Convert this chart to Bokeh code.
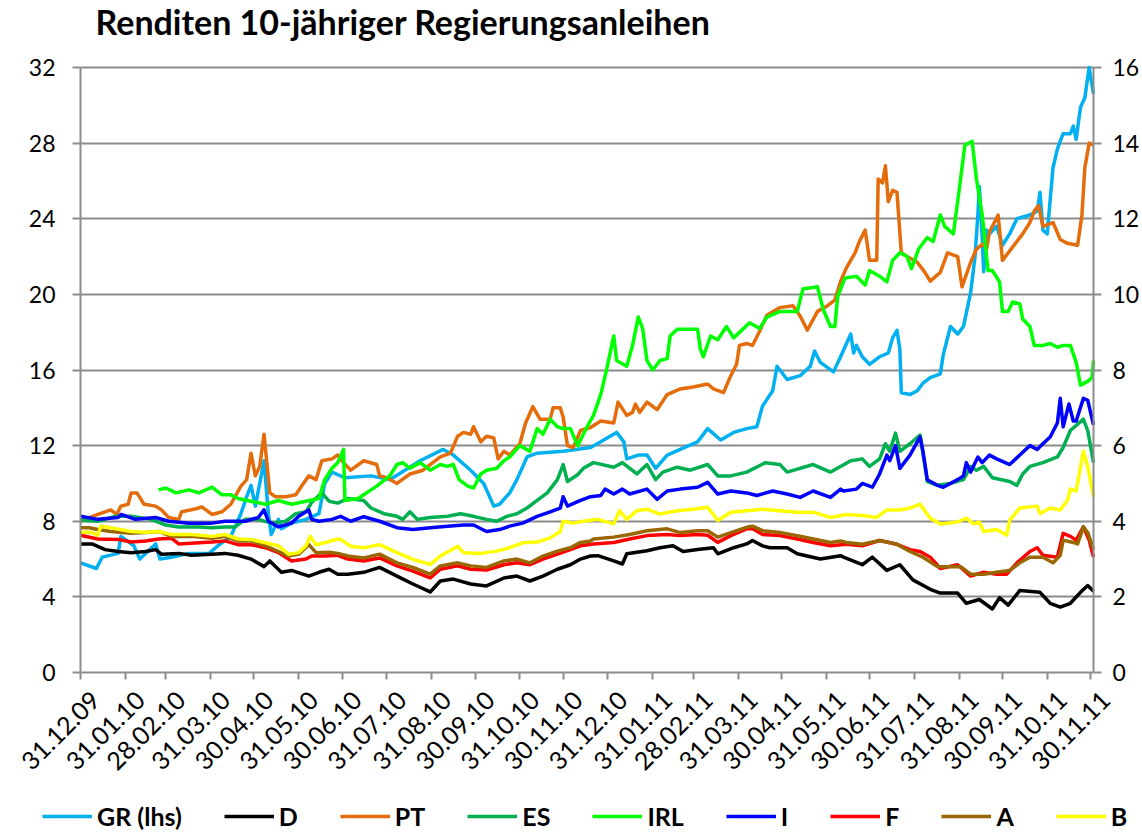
import math
from datetime import datetime
from bokeh.plotting import figure
from bokeh.models import Range1d, LinearAxis, FixedTicker, Legend, LegendItem, Label
from bokeh.core.properties import value
from bokeh.embed import file_html
from bokeh.resources import INLINE

# ---------------- data (days since 31.12.2009, yields in %) ----------------
tick_labels = ["31.12.09", "31.01.10", "28.02.10", "31.03.10", "30.04.10", "31.05.10",
               "30.06.10", "31.07.10", "31.08.10", "30.09.10", "31.10.10", "30.11.10",
               "31.12.10", "31.01.11", "28.02.11", "31.03.11", "30.04.11", "31.05.11",
               "30.06.11", "31.07.11", "31.08.11", "30.09.11", "31.10.11", "30.11.11"]

gr_days = [0, 11, 15, 26, 28, 37, 41, 52, 55, 63, 75, 89, 95, 104, 111, 115, 118, 121, 127, 130,
           132, 137, 139, 146, 156, 165, 169, 174, 183, 201, 214, 235, 251, 258, 270, 279, 286,
           290, 297, 302, 309, 316, 334, 353, 360, 371, 376, 378, 386, 392, 398, 406, 415, 427,
           434, 443, 452, 461, 468, 472, 479, 482, 489, 498, 505, 508, 512, 521, 526, 533, 535,
           537, 541, 546, 553, 559, 562, 565, 567, 568, 574, 579, 583, 588, 595, 597, 602, 607,
           611, 616, 619, 621, 622, 624, 625, 627, 629, 634, 638, 643, 648, 657, 662, 664, 666,
           669, 671, 673, 676, 680, 685, 687, 689, 692, 695, 698, 701]
gr_vals = [5.8, 5.5, 6.1, 6.3, 7.2, 6.7, 6.0, 6.8, 6.0, 6.1, 6.3, 6.3, 6.7, 7.2, 8.4, 9.3, 9.9, 8.8,
           11.2, 8.4, 7.3, 8.1, 7.6, 7.9, 8.1, 8.4, 10.0, 10.6, 10.3, 10.4, 10.2, 11.2, 11.8, 11.5,
           10.7, 10.0, 8.8, 8.9, 9.5, 10.2, 11.4, 11.6, 11.7, 11.9, 12.2, 12.7, 12.2, 11.3, 11.5,
           11.5, 10.8, 11.5, 11.8, 12.2, 12.9, 12.3, 12.7, 12.9, 13.0, 14.1, 14.9, 16.2, 15.5, 15.7,
           16.2, 17.0, 16.4, 15.9, 16.7, 17.9, 16.9, 17.3, 16.7, 16.3, 16.7, 16.9, 17.7, 18.1, 17.1,
           14.8, 14.7, 14.9, 15.3, 15.6, 15.8, 16.8, 18.3, 17.9, 18.3, 20.1, 22.0, 24.2, 25.7, 23.0,
           21.2, 23.4, 23.2, 23.6, 22.6, 23.2, 24.0, 24.2, 24.4, 25.4, 23.4, 23.2, 25.0, 26.7, 27.7,
           28.5, 28.5, 28.9, 28.2, 29.9, 30.4, 32.0, 30.6]

d_days = [0, 8, 17, 26, 35, 45, 52, 56, 68, 77, 91, 100, 109, 118, 127, 131, 139, 146, 158, 165,
          172, 178, 185, 196, 207, 219, 230, 242, 249, 258, 270, 281, 293, 302, 311, 320, 330, 339,
          346, 353, 358, 369, 375, 378, 392, 401, 410, 417, 427, 438, 441, 452, 461, 465, 472, 477,
          489, 496, 512, 526, 528, 541, 548, 558, 567, 576, 588, 595, 607, 613, 622, 631, 636, 642,
          650, 664, 671, 678, 685, 692, 697, 701]
d_vals = [3.40, 3.40, 3.25, 3.20, 3.17, 3.20, 3.25, 3.13, 3.15, 3.10, 3.13, 3.15, 3.10, 3.00, 2.80,
          2.95, 2.65, 2.70, 2.55, 2.65, 2.73, 2.60, 2.60, 2.65, 2.78, 2.55, 2.34, 2.13, 2.42, 2.47,
          2.34, 2.29, 2.50, 2.55, 2.42, 2.55, 2.73, 2.85, 3.00, 3.08, 3.09, 2.95, 2.87, 3.14, 3.22,
          3.30, 3.35, 3.20, 3.25, 3.30, 3.14, 3.30, 3.40, 3.49, 3.35, 3.30, 3.30, 3.14, 3.00, 3.09,
          3.05, 2.85, 3.05, 2.70, 2.85, 2.45, 2.20, 2.10, 2.10, 1.83, 1.93, 1.68, 1.98, 1.78, 2.17,
          2.12, 1.83, 1.73, 1.83, 2.12, 2.30, 2.15]

pt_days = [0, 12, 21, 25, 28, 33, 35, 39, 44, 52, 56, 61, 68, 70, 80, 84, 91, 98, 104, 111, 115,
           118, 121, 124, 127, 131, 135, 142, 149, 153, 158, 163, 167, 174, 178, 182, 187, 196, 205,
           207, 212, 219, 228, 237, 249, 256, 261, 265, 270, 272, 277, 281, 286, 289, 293, 297, 304,
           308, 313, 318, 325, 327, 332, 334, 337, 341, 346, 353, 360, 369, 372, 378, 382, 384, 387,
           392, 399, 406, 415, 424, 434, 438, 445, 450, 454, 456, 461, 465, 469, 475, 484, 493, 498,
           503, 510, 517, 522, 526, 530, 536, 539, 543, 546, 551, 552, 555, 557, 559, 562, 565, 568,
           572, 579, 584, 588, 595, 600, 607, 610, 616, 620, 625, 627, 629, 635, 638, 645, 652, 657,
           660, 663, 666, 673, 678, 683, 690, 693, 695, 698, 701]
pt_vals = [4.0, 4.18, 4.3, 4.18, 4.4, 4.45, 4.75, 4.75, 4.45, 4.4, 4.3, 4.1, 4.05, 4.25, 4.33, 4.38,
           4.18, 4.25, 4.45, 4.93, 5.1, 5.8, 5.2, 5.45, 6.3, 4.75, 4.65, 4.65, 4.7, 4.93, 5.2, 5.1,
           5.6, 5.65, 5.75, 5.55, 5.35, 5.6, 5.5, 5.2, 5.15, 5.0, 5.25, 5.35, 5.7, 5.8, 6.25, 6.35,
           6.3, 6.5, 6.1, 6.25, 6.2, 5.65, 5.85, 5.75, 6.05, 6.6, 7.03, 6.7, 6.7, 7.0, 7.0, 6.75,
           6.0, 5.95, 6.4, 6.48, 6.65, 6.6, 7.15, 6.8, 6.88, 7.1, 6.88, 7.15, 6.95, 7.35, 7.5, 7.55,
           7.63, 7.5, 7.4, 7.85, 8.15, 8.65, 8.7, 8.65, 8.95, 9.45, 9.65, 9.7, 9.43, 9.05, 9.55, 9.7,
           9.85, 10.35, 10.7, 11.1, 11.4, 11.7, 10.9, 10.9, 13.05, 12.95, 13.4, 12.45, 12.75, 12.7,
           11.1, 11.0, 10.85, 10.6, 10.35, 10.58, 11.1, 11.0, 10.2, 10.85, 11.2, 11.35, 11.2, 11.65,
           12.1, 10.9, 11.25, 11.6, 11.9, 12.2, 12.35, 11.8, 11.9, 11.45, 11.35, 11.3, 12.1, 13.35,
           14.0, 13.95]

es_days = [0, 12, 24, 35, 49, 59, 68, 82, 91, 100, 107, 114, 123, 132, 142, 149, 156, 160, 167,
           172, 178, 185, 196, 201, 210, 219, 223, 228, 233, 242, 254, 263, 272, 281, 288, 295, 302,
           309, 316, 323, 330, 334, 337, 344, 348, 355, 369, 375, 385, 392, 398, 403, 413, 422, 434,
           441, 450, 461, 474, 484, 489, 507, 519, 526, 533, 541, 546, 553, 557, 560, 564, 567, 574,
           581, 586, 593, 602, 611, 616, 620, 625, 631, 643, 648, 652, 657, 666, 676, 680, 685, 694,
           697, 701]
es_vals = [4.03, 4.0, 4.13, 4.13, 4.05, 3.9, 3.85, 3.85, 3.83, 3.85, 3.85, 4.05, 4.05, 3.95, 4.0,
           4.2, 4.25, 4.5, 4.75, 4.53, 4.48, 4.6, 4.55, 4.35, 4.2, 4.13, 4.05, 4.25, 4.05, 4.1, 4.13,
           4.2, 4.13, 4.05, 4.0, 4.13, 4.2, 4.35, 4.55, 4.75, 5.1, 5.5, 5.05, 5.23, 5.4, 5.55, 5.43,
           5.55, 5.25, 5.5, 5.1, 5.3, 5.43, 5.35, 5.5, 5.2, 5.2, 5.3, 5.55, 5.5, 5.3, 5.5, 5.3, 5.45,
           5.6, 5.65, 5.45, 5.65, 6.05, 5.85, 6.33, 5.85, 6.05, 6.28, 5.05, 4.95, 5.0, 5.1, 5.45, 5.35,
           5.45, 5.15, 5.05, 4.95, 5.25, 5.45, 5.55, 5.7, 5.95, 6.4, 6.7, 6.4, 5.55]

irl_days = [54, 59, 66, 75, 82, 91, 98, 104, 109, 118, 128, 137, 146, 156, 165, 169, 174, 178, 182,
            183, 192, 196, 205, 214, 219, 223, 228, 235, 242, 249, 254, 258, 262, 268, 272, 277, 281,
            288, 293, 297, 304, 311, 316, 320, 325, 330, 334, 339, 344, 348, 351, 355, 360, 364, 369,
            371, 378, 382, 386, 389, 392, 396, 401, 406, 408, 413, 420, 427, 429, 431, 436, 441, 447,
            452, 463, 470, 475, 484, 496, 500, 507, 510, 514, 519, 522, 524, 529, 537, 543, 546, 553,
            558, 562, 567, 572, 575, 580, 586, 590, 595, 598, 604, 608, 612, 617, 620, 624, 628, 631,
            636, 638, 642, 645, 650, 652, 657, 660, 666, 671, 676, 680, 685, 689, 692, 697, 700, 701]
irl_vals = [4.83, 4.88, 4.75, 4.83, 4.75, 4.9, 4.7, 4.7, 4.6, 4.53, 4.45, 4.55, 4.45, 4.53, 4.6, 5.1,
            5.4, 5.55, 5.9, 4.55, 4.6, 4.7, 4.93, 5.2, 5.5, 5.55, 5.4, 5.55, 5.35, 5.5, 5.45, 5.5,
            5.1, 4.93, 4.88, 5.25, 5.35, 5.4, 5.6, 5.7, 6.0, 5.85, 6.45, 6.3, 6.7, 6.5, 6.45, 6.45,
            6.0, 6.3, 6.53, 6.8, 7.35, 8.0, 8.9, 8.25, 8.1, 8.65, 9.4, 9.1, 8.25, 8.0, 8.25, 8.3, 8.9,
            9.08, 9.08, 9.08, 8.55, 8.35, 8.9, 8.8, 9.15, 8.85, 9.25, 9.1, 9.4, 9.55, 9.55, 10.15,
            10.18, 10.2, 9.6, 9.15, 9.15, 9.95, 10.43, 10.48, 10.25, 10.63, 10.48, 10.33, 10.9, 11.1,
            11.0, 10.68, 11.2, 11.5, 11.4, 12.1, 11.8, 11.6, 12.75, 13.95, 14.05, 13.05, 12.1, 10.63,
            10.63, 10.33, 9.55, 9.55, 9.8, 9.75, 9.35, 9.15, 8.65, 8.65, 8.7, 8.6, 8.65, 8.65, 8.2,
            7.6, 7.7, 7.8, 8.25]

i_days = [0, 12, 26, 28, 38, 52, 61, 75, 91, 100, 114, 123, 127, 130, 137, 146, 151, 158, 160, 165,
          174, 180, 187, 196, 207, 219, 230, 242, 254, 265, 272, 281, 290, 297, 306, 316, 325, 332,
          334, 337, 346, 353, 360, 363, 369, 375, 380, 392, 399, 406, 415, 427, 434, 441, 450, 461,
          468, 479, 489, 498, 507, 519, 526, 528, 537, 541, 548, 553, 558, 560, 564, 567, 574, 581,
          583, 586, 593, 597, 607, 611, 613, 616, 621, 624, 629, 634, 643, 650, 657, 662, 666, 671,
          676, 678, 680, 684, 687, 689, 694, 697, 701]
i_vals = [4.13, 4.05, 4.1, 4.18, 4.05, 4.1, 4.0, 3.95, 3.95, 4.0, 4.0, 4.1, 4.3, 4.0, 3.85, 3.95,
          4.13, 4.3, 4.05, 4.0, 4.05, 4.13, 4.0, 4.12, 4.0, 3.83, 3.78, 3.83, 3.87, 3.9, 3.9, 3.73,
          3.78, 3.87, 3.95, 4.13, 4.25, 4.35, 4.65, 4.4, 4.55, 4.65, 4.68, 4.85, 4.72, 4.85, 4.72,
          4.85, 4.58, 4.8, 4.85, 4.9, 5.03, 4.72, 4.8, 4.75, 4.68, 4.8, 4.72, 4.63, 4.8, 4.63, 4.85,
          4.8, 4.85, 5.0, 4.9, 5.25, 5.75, 5.6, 6.0, 5.4, 5.75, 6.23, 5.85, 5.1, 4.95, 4.9, 5.1, 5.2,
          5.55, 5.3, 5.7, 5.55, 5.75, 5.65, 5.5, 5.75, 6.0, 5.9, 6.05, 6.23, 6.6, 7.25, 6.5, 7.1,
          6.65, 6.65, 7.25, 7.2, 6.55]

f_days = [0, 12, 26, 35, 45, 54, 63, 68, 82, 91, 100, 109, 118, 128, 137, 146, 156, 160, 169, 178,
          185, 196, 207, 219, 230, 242, 249, 261, 270, 281, 293, 302, 311, 320, 330, 339, 346, 355,
          369, 380, 392, 406, 415, 427, 434, 441, 450, 461, 465, 472, 484, 496, 507, 519, 530, 541,
          553, 565, 574, 581, 588, 595, 607, 616, 625, 634, 641, 648, 657, 662, 666, 676, 680, 685,
          689, 694, 698, 701]
f_vals = [3.63, 3.53, 3.52, 3.45, 3.48, 3.53, 3.55, 3.4, 3.43, 3.45, 3.48, 3.38, 3.38, 3.3, 3.17,
          2.95, 3.0, 3.08, 3.08, 3.1, 3.0, 2.95, 3.03, 2.82, 2.68, 2.5, 2.73, 2.82, 2.73, 2.71, 2.85,
          2.9, 2.85, 3.0, 3.13, 3.25, 3.35, 3.4, 3.44, 3.53, 3.62, 3.65, 3.62, 3.65, 3.63, 3.44,
          3.62, 3.8, 3.81, 3.65, 3.62, 3.53, 3.44, 3.35, 3.39, 3.35, 3.49, 3.39, 3.25, 3.2, 3.05,
          2.75, 2.85, 2.55, 2.65, 2.6, 2.6, 2.9, 3.2, 3.3, 3.1, 3.05, 3.68, 3.6, 3.5, 3.85, 3.5, 3.05]

a_days = [0, 6, 12, 21, 35, 45, 54, 63, 77, 91, 100, 109, 118, 128, 137, 144, 151, 158, 163, 172,
          178, 185, 196, 207, 219, 230, 242, 249, 261, 270, 281, 293, 302, 311, 320, 330, 339, 346,
          353, 355, 369, 380, 392, 406, 415, 427, 434, 441, 450, 461, 465, 472, 484, 496, 507, 519,
          526, 530, 541, 553, 565, 574, 583, 593, 600, 609, 616, 625, 634, 643, 650, 657, 666, 673,
          678, 680, 687, 690, 694, 697, 701]
a_vals = [3.83, 3.83, 3.78, 3.73, 3.68, 3.7, 3.73, 3.6, 3.6, 3.55, 3.6, 3.48, 3.48, 3.35, 3.2, 3.08,
          3.13, 3.38, 3.17, 3.18, 3.15, 3.08, 3.03, 3.13, 2.9, 2.78, 2.6, 2.82, 2.9, 2.82, 2.78, 2.95,
          3.0, 2.9, 3.08, 3.21, 3.3, 3.44, 3.48, 3.53, 3.58, 3.65, 3.75, 3.8, 3.7, 3.75, 3.75, 3.58,
          3.7, 3.84, 3.87, 3.75, 3.7, 3.62, 3.53, 3.44, 3.48, 3.44, 3.39, 3.49, 3.39, 3.2, 3.05, 2.8,
          2.8, 2.8, 2.6, 2.6, 2.65, 2.7, 2.9, 3.05, 3.05, 2.9, 3.1, 3.5, 3.44, 3.4, 3.85, 3.7, 3.25]

b_days = [0, 8, 12, 14, 21, 35, 45, 54, 63, 77, 91, 100, 109, 118, 128, 137, 144, 151, 156, 159,
          163, 169, 178, 180, 187, 196, 207, 219, 230, 242, 249, 261, 265, 277, 288, 297, 306, 316,
          325, 332, 334, 341, 348, 358, 369, 373, 378, 385, 392, 401, 413, 424, 434, 441, 450, 461,
          472, 484, 496, 507, 519, 530, 541, 551, 558, 567, 574, 581, 588, 595, 607, 613, 618, 622,
          625, 634, 641, 643, 650, 662, 664, 671, 678, 683, 685, 689, 694, 697, 701]
b_vals = [3.71, 3.7, 3.63, 3.87, 3.83, 3.73, 3.71, 3.73, 3.65, 3.65, 3.6, 3.65, 3.53, 3.52, 3.43,
          3.35, 3.13, 3.17, 3.35, 3.6, 3.38, 3.43, 3.53, 3.52, 3.34, 3.3, 3.38, 3.17, 2.99, 2.86,
          3.08, 3.34, 3.17, 3.15, 3.21, 3.3, 3.43, 3.45, 3.56, 3.73, 4.0, 3.95, 4.0, 4.05, 3.93,
          4.28, 4.05, 4.28, 4.32, 4.19, 4.28, 4.32, 4.37, 4.02, 4.24, 4.28, 4.32, 4.28, 4.24, 4.24,
          4.1, 4.18, 4.15, 4.1, 4.3, 4.3, 4.35, 4.45, 4.08, 3.93, 3.98, 4.08, 3.93, 3.98, 3.73,
          3.78, 3.63, 4.03, 4.35, 4.4, 4.2, 4.35, 4.3, 4.55, 4.85, 4.8, 5.85, 5.45, 4.65]

series_names = ["GR (lhs)", "D", "PT", "ES", "IRL", "I", "F", "A", "B"]
series_colors = ["#00B0F0", "#000000", "#E46C0A", "#00B050", "#00FF00", "#0000FF",
                 "#FF0000", "#996600", "#FFFF00"]
left_ticks = [0, 4, 8, 12, 16, 20, 24, 28, 32]
right_ticks = [0, 2, 4, 6, 8, 10, 12, 14, 16]
title_text = "Renditen 10-jähriger Regierungsanleihen"

# ---------------- layout (pixels) ----------------
FONT = "Lato"
GRID = "#8C8C8C"
W, H = 1142, 832                 # canvas
LEFT, FRAME_W, TOP, PLOT_H = 80, 1013, 67, 605   # box of the value area
X_END = 701
LHS_MAX, RHS_MAX = 32, 16

sx = FRAME_W / X_END             # px per day
sy = PLOT_H / LHS_MAX            # px per lhs unit
def px_to_day(px):
    return (px - LEFT) / sx
def py_to_lhs(py):
    return LHS_MAX - (py - TOP) / sy

lhs_lo, lhs_hi = py_to_lhs(H), py_to_lhs(0)
ratio = RHS_MAX / LHS_MAX

base = datetime(2009, 12, 31)
tick_days = [(datetime.strptime(t, "%d.%m.%y") - base).days for t in tick_labels]

p = figure(frame_width=W, frame_height=H,
           x_range=Range1d(px_to_day(0), px_to_day(W)), y_range=Range1d(lhs_lo, lhs_hi),
           output_backend="svg", toolbar_location=None, min_border=0)
p.extra_y_ranges = {"rhs": Range1d(lhs_lo * ratio, lhs_hi * ratio)}
p.outline_line_color = None

def style_axis(ax):
    ax.axis_line_color = GRID
    ax.axis_line_width = 2
    ax.major_tick_line_color = GRID
    ax.major_tick_line_width = 2
    ax.major_tick_in = 0
    ax.major_tick_out = 8
    ax.minor_tick_line_color = None
    ax.major_label_text_font = FONT
    ax.major_label_text_font_size = "23px"
    ax.major_label_text_color = "#000000"

yl = p.yaxis[0]
yl.ticker = FixedTicker(ticks=left_ticks)
yl.bounds = (0, LHS_MAX)
yl.fixed_location = 0
style_axis(yl)
yl.major_label_standoff = 17

yr = LinearAxis(y_range_name="rhs", ticker=FixedTicker(ticks=right_ticks),
                bounds=(0, RHS_MAX), fixed_location=X_END)
style_axis(yr)
yr.major_label_standoff = 11
p.add_layout(yr, "right")

xa = p.xaxis[0]
xa.ticker = FixedTicker(ticks=tick_days)
xa.bounds = (0, X_END)
xa.fixed_location = 0
style_axis(xa)
xa.major_tick_out = 7
xa.major_label_overrides = {d: "" for d in tick_days}
xa.major_label_text_font_size = "0px"

# date labels, rotated 45 degrees and hung below each month-end tick
p.text(x=tick_days, y=[0] * len(tick_days), text=tick_labels,
       angle=math.pi / 4, x_offset=15, y_offset=23,
       text_align="right", text_baseline="middle",
       text_font=value(FONT), text_font_size="25px", text_color="#000000")

p.xgrid.visible = False
g = p.ygrid[0]
g.ticker = FixedTicker(ticks=left_ticks[1:])
g.grid_line_color = GRID
g.grid_line_width = 2
try:
    g.cross_bounds = (0, X_END)
except Exception:
    g.visible = False
    p.segment(x0=[0] * len(left_ticks[1:]), x1=[X_END] * len(left_ticks[1:]),
              y0=left_ticks[1:], y1=left_ticks[1:], line_color=GRID, line_width=2)

p.add_layout(Label(x=px_to_day(95), y=py_to_lhs(21), text=title_text,
                   text_font=FONT, text_font_size="34px", text_font_style="bold",
                   text_color="#000000", text_baseline="alphabetic"))

data = [(gr_days, gr_vals), (d_days, d_vals), (pt_days, pt_vals), (es_days, es_vals),
        (irl_days, irl_vals), (i_days, i_vals), (f_days, f_vals), (a_days, a_vals),
        (b_days, b_vals)]
items = []
for k, ((xs, ys), name, col) in enumerate(zip(data, series_names, series_colors)):
    kw = {} if k == 0 else {"y_range_name": "rhs"}
    r = p.line(xs, ys, line_color=col, line_width=3.5, line_join="round", **kw)
    items.append(LegendItem(label=name, renderers=[r]))

legend = Legend(items=items, orientation="horizontal", location=(42, 1),
                label_text_font=FONT, label_text_font_size="25px", label_text_font_style="bold",
                label_text_color="#000000", glyph_width=50, glyph_height=22, label_width=0,
                label_standoff=5, spacing=42, padding=0, margin=0,
                border_line_color=None, background_fill_alpha=0)
p.add_layout(legend, "center")

open("out.html", "w").write(file_html(p, INLINE))
